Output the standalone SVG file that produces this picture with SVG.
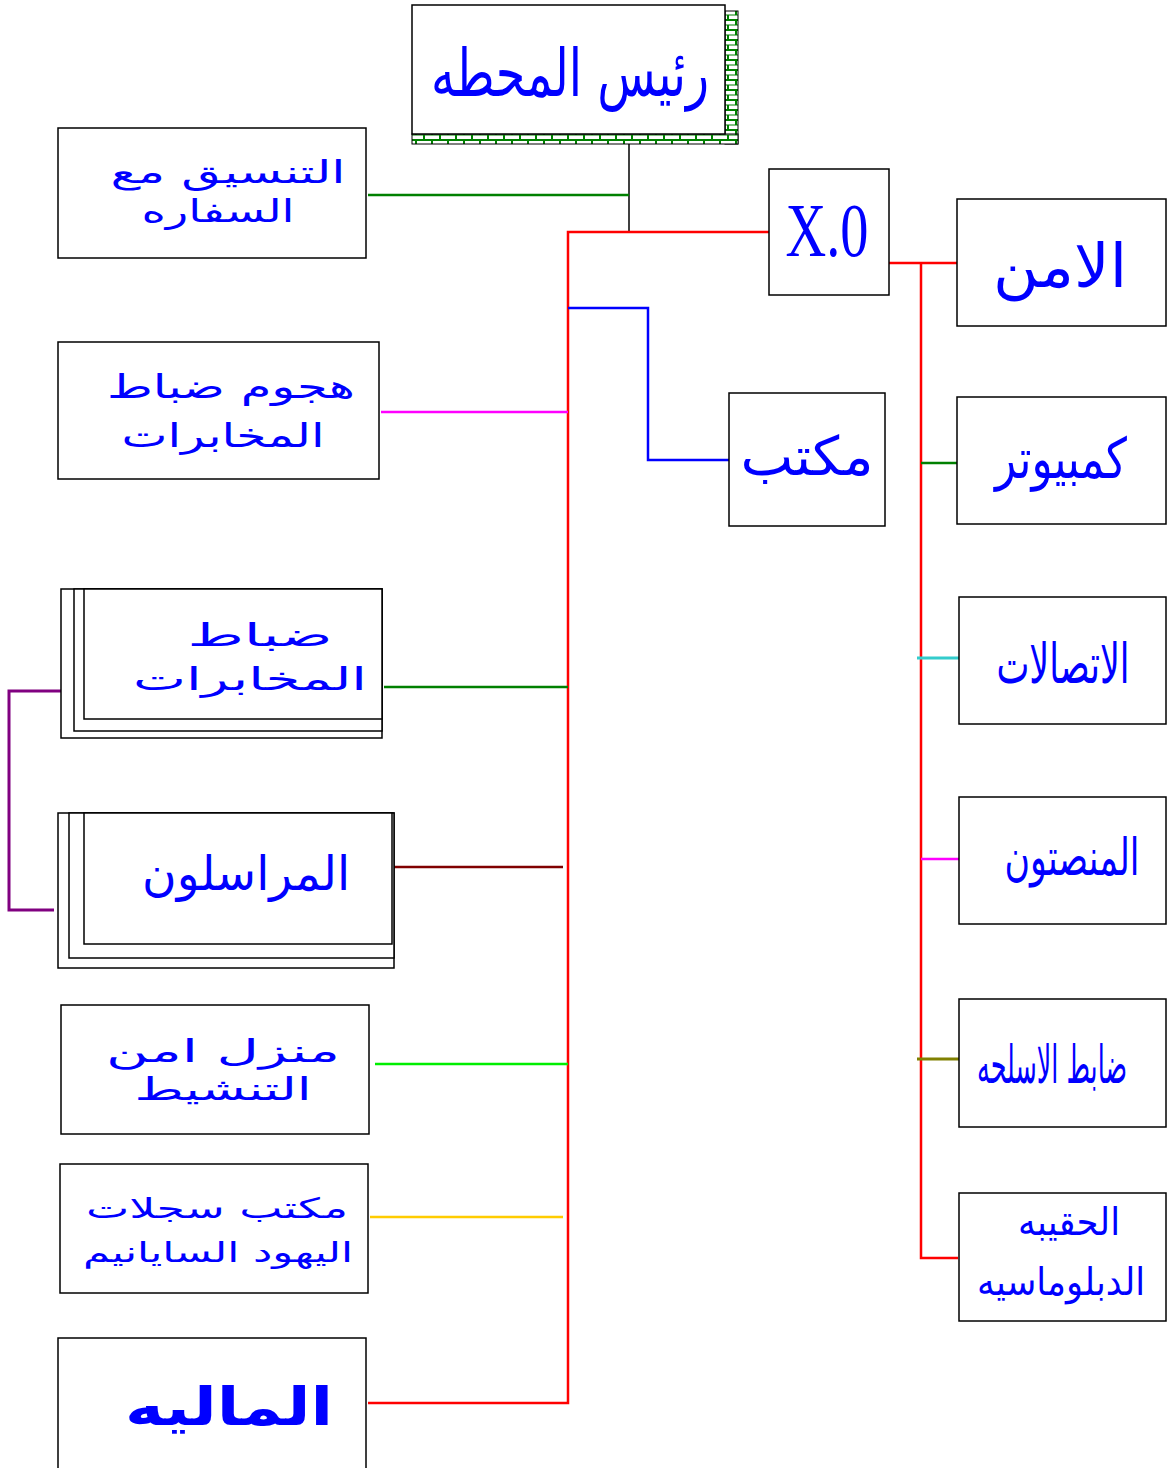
<svg xmlns="http://www.w3.org/2000/svg" width="1167" height="1468" viewBox="0 0 1167 1468">
<style>
.box{fill:#fff;stroke:#000;stroke-width:1.5}
.t{font-family:"DejaVu Sans",sans-serif;fill:#0000ff;text-anchor:middle}
.c{fill:none;stroke-width:2.5}
</style>
<defs>
<pattern id="brick" width="16" height="10" patternUnits="userSpaceOnUse">
<rect width="16" height="10" fill="#008000"/>
<rect x="1" y="1" width="14" height="3.5" fill="#fff"/>
<rect x="-7" y="5.5" width="14" height="3.5" fill="#fff"/>
<rect x="9" y="5.5" width="14" height="3.5" fill="#fff"/>
</pattern>
</defs>
<rect width="1167" height="1468" fill="#fff"/>
<g id="connectors">
<line x1="629" y1="144" x2="629" y2="232" stroke="#000" class="c" style="stroke-width:1.5"/>
<line x1="368" y1="195" x2="629" y2="195" stroke="#008000" class="c"/>
<polyline points="769,232 568,232 568,1403 368,1403" stroke="#ff0000" class="c"/>
<polyline points="568,308 648,308 648,460 729,460" stroke="#0000ff" class="c"/>
<line x1="381" y1="412" x2="568" y2="412" stroke="#ff00ff" class="c"/>
<line x1="384" y1="687" x2="568" y2="687" stroke="#008000" class="c"/>
<line x1="390" y1="867" x2="563" y2="867" stroke="#800000" class="c"/>
<line x1="375" y1="1064" x2="568" y2="1064" stroke="#00ee00" class="c"/>
<line x1="370" y1="1217" x2="563" y2="1217" stroke="#ffcc00" class="c"/>
<polyline points="61,691 9,691 9,910 54,910" stroke="#800080" class="c" style="stroke-width:3"/>
<line x1="889" y1="263" x2="957" y2="263" stroke="#ff0000" class="c"/>
<polyline points="921,263 921,1258 958,1258" stroke="#ff0000" class="c"/>
<line x1="921" y1="463" x2="957" y2="463" stroke="#008000" class="c"/>
<line x1="917" y1="658" x2="959" y2="658" stroke="#33cccc" class="c" style="stroke-width:3"/>
<line x1="921" y1="859" x2="959" y2="859" stroke="#ff00ff" class="c"/>
<line x1="917" y1="1059" x2="961" y2="1059" stroke="#808000" class="c" style="stroke-width:3"/>
</g>
<g id="n-head">
<rect x="725" y="11" width="13" height="133" fill="url(#brick)" stroke="#000" stroke-width="1"/>
<rect x="412" y="134" width="326" height="10" fill="url(#brick)" stroke="#000" stroke-width="1"/>
<rect class="box" x="412" y="5" width="313" height="129"/>
<text class="t" x="570" y="96" font-size="66" textLength="278" lengthAdjust="spacingAndGlyphs">رئيس المحطه</text>
</g>
<g id="n-coord">
<rect class="box" x="58" y="128" width="308" height="130"/>
<text class="t" x="228" y="183" font-size="31" textLength="235" lengthAdjust="spacingAndGlyphs">التنسيق مع</text>
<text class="t" x="218" y="222" font-size="31" textLength="153" lengthAdjust="spacingAndGlyphs">السفاره</text>
</g>
<g id="n-attack">
<rect class="box" x="58" y="342" width="321" height="137"/>
<text class="t" x="231" y="398" font-size="33" textLength="248" lengthAdjust="spacingAndGlyphs">هجوم ضباط</text>
<text class="t" x="223" y="447" font-size="33" textLength="203" lengthAdjust="spacingAndGlyphs">المخابرات</text>
</g>
<g id="n-officers">
<rect class="box" x="61" y="589" width="321" height="149"/>
<rect class="box" x="74" y="589" width="308" height="142"/>
<rect class="box" x="84" y="589" width="298" height="130"/>
<text class="t" x="260" y="646" font-size="32" textLength="145" lengthAdjust="spacingAndGlyphs">ضباط</text>
<text class="t" x="250" y="690" font-size="32" textLength="234" lengthAdjust="spacingAndGlyphs">المخابرات</text>
</g>
<g id="n-corr">
<rect class="box" x="58" y="813" width="336" height="155"/>
<rect class="box" x="69" y="813" width="325" height="145"/>
<rect class="box" x="84" y="813" width="308" height="131"/>
<text class="t" x="246" y="890" font-size="48" textLength="208" lengthAdjust="spacingAndGlyphs">المراسلون</text>
</g>
<g id="n-safehouse">
<rect class="box" x="61" y="1005" width="308" height="129"/>
<text class="t" x="223" y="1062" font-size="31" textLength="234" lengthAdjust="spacingAndGlyphs">منزل امن</text>
<text class="t" x="223" y="1100" font-size="31" textLength="177" lengthAdjust="spacingAndGlyphs">التنشيط</text>
</g>
<g id="n-records">
<rect class="box" x="60" y="1164" width="308" height="129"/>
<text class="t" x="217" y="1218" font-size="28" textLength="262" lengthAdjust="spacingAndGlyphs">مكتب سجلات</text>
<text class="t" x="218" y="1262" font-size="28" textLength="270" lengthAdjust="spacingAndGlyphs">اليهود السايانيم</text>
</g>
<g id="n-finance">
<rect class="box" x="58" y="1338" width="308" height="132"/>
<text class="t" x="229" y="1425" font-size="52" font-weight="bold" textLength="208" lengthAdjust="spacingAndGlyphs">الماليه</text>
</g>
<g id="n-xo">
<rect class="box" x="769" y="169" width="120" height="126"/>
<text x="827" y="256" font-family="Liberation Serif,serif" font-size="76" fill="#0000ff" text-anchor="middle" textLength="83" lengthAdjust="spacingAndGlyphs">X.0</text>
</g>
<g id="n-office">
<rect class="box" x="729" y="393" width="156" height="133"/>
<text class="t" x="807" y="475" font-size="54" textLength="133" lengthAdjust="spacingAndGlyphs">مكتب</text>
</g>
<g id="n-security">
<rect class="box" x="957" y="199" width="209" height="127"/>
<text class="t" x="1060" y="287" font-size="60" textLength="134" lengthAdjust="spacingAndGlyphs">الامن</text>
</g>
<g id="n-computer">
<rect class="box" x="957" y="397" width="209" height="127"/>
<text class="t" x="1061" y="478" font-size="56" textLength="132" lengthAdjust="spacingAndGlyphs">كمبيوتر</text>
</g>
<g id="n-comms">
<rect class="box" x="959" y="597" width="207" height="127"/>
<text class="t" transform="translate(1063,683) scale(1,1.45)" x="0" y="0" font-size="38" textLength="133" lengthAdjust="spacingAndGlyphs">الاتصالات</text>
</g>
<g id="n-listen">
<rect class="box" x="959" y="797" width="207" height="127"/>
<text class="t" transform="translate(1072,875) scale(1,1.4)" x="0" y="0" font-size="37" textLength="135" lengthAdjust="spacingAndGlyphs">المنصتون</text>
</g>
<g id="n-weapons">
<rect class="box" x="959" y="999" width="207" height="128"/>
<text class="t" transform="translate(1052,1083) scale(1,1.75)" x="0" y="0" font-size="30" textLength="150" lengthAdjust="spacingAndGlyphs">ضابط الاسلحه</text>
</g>
<g id="n-pouch">
<rect class="box" x="959" y="1193" width="207" height="128"/>
<text class="t" x="1069" y="1235" font-size="38" textLength="102" lengthAdjust="spacingAndGlyphs">الحقيبه</text>
<text class="t" x="1061" y="1295" font-size="38" textLength="168" lengthAdjust="spacingAndGlyphs">الدبلوماسيه</text>
</g>
</svg>
